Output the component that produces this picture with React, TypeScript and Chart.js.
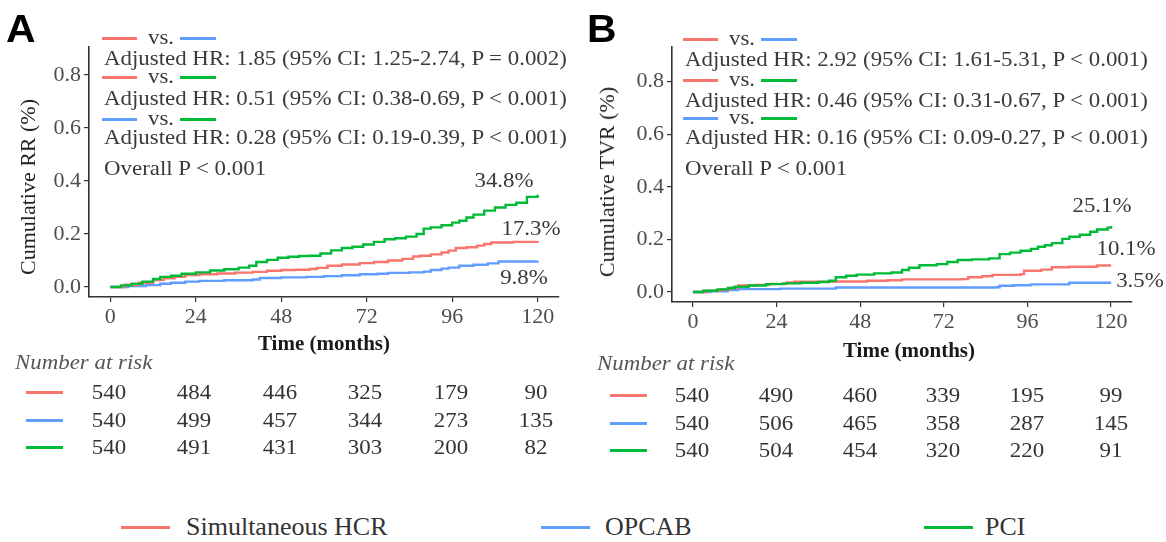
import React, { useEffect, useRef } from "react";
import { Chart, registerables } from "chart.js";
Chart.register(...registerables);

const RED = "#F8766D";
const BLUE = "#619CFF";
const GREEN = "#00BA38";
const AXIS = "#333333";
const TICK = "#4d4d4d";
const SERIF = "'Liberation Serif', 'Times New Roman', serif";

// ---- Panel A: cumulative RR ----
const rrTimePCI = [0, 3, 6, 9, 12, 14, 17, 20, 24, 28, 32, 36, 39, 41, 44, 47, 50, 53, 56, 59, 62, 65, 68, 71, 74, 77, 80, 83, 86, 88, 90, 93, 96, 98, 100, 102, 105, 108, 111, 114, 117, 120];
const rrPCI = [0, 0.006, 0.012, 0.02, 0.03, 0.038, 0.042, 0.05, 0.055, 0.062, 0.067, 0.073, 0.08, 0.094, 0.102, 0.11, 0.114, 0.117, 0.118, 0.126, 0.138, 0.147, 0.152, 0.16, 0.17, 0.18, 0.184, 0.19, 0.2, 0.22, 0.225, 0.233, 0.243, 0.25, 0.262, 0.273, 0.288, 0.3, 0.31, 0.318, 0.34, 0.348];
const rrTimeHCR = [0, 4, 8, 12, 15, 18, 21, 25, 30, 35, 40, 44, 48, 52, 56, 58, 61, 65, 70, 74, 78, 82, 85, 87, 90, 93, 95, 97, 100, 103, 105, 107, 113, 120];
const rrHCR = [0, 0.008, 0.016, 0.026, 0.033, 0.038, 0.045, 0.048, 0.051, 0.054, 0.057, 0.061, 0.064, 0.065, 0.068, 0.072, 0.08, 0.085, 0.09, 0.094, 0.1, 0.106, 0.115, 0.118, 0.123, 0.13, 0.137, 0.147, 0.15, 0.156, 0.162, 0.168, 0.17, 0.173];
const rrTimeOPCAB = [0, 5, 10, 14, 17, 21, 25, 32, 40, 42, 48, 55, 60, 65, 70, 75, 78, 84, 88, 90, 93, 95, 98, 102, 106, 109, 120];
const rrOPCAB = [0, 0.003, 0.007, 0.012, 0.016, 0.02, 0.023, 0.025, 0.028, 0.034, 0.036, 0.038, 0.041, 0.044, 0.048, 0.05, 0.053, 0.055, 0.058, 0.064, 0.069, 0.073, 0.08, 0.084, 0.089, 0.096, 0.098];

// ---- Panel B: cumulative TVR ----
const tvrTimePCI = [0, 3, 7, 10, 12, 16, 21, 26, 31, 36, 39, 41, 44, 47, 52, 57, 60, 62, 65, 70, 73, 76, 80, 85, 88, 91, 94, 97, 99, 101, 103, 106, 108, 111, 114, 116, 119, 120];
const tvrPCI = [0, 0.005, 0.01, 0.015, 0.02, 0.025, 0.03, 0.033, 0.035, 0.038, 0.043, 0.056, 0.062, 0.066, 0.071, 0.074, 0.084, 0.092, 0.102, 0.106, 0.114, 0.122, 0.124, 0.128, 0.144, 0.15, 0.157, 0.164, 0.172, 0.178, 0.186, 0.202, 0.21, 0.218, 0.229, 0.238, 0.245, 0.251];
const tvrTimeHCR = [0, 4, 8, 11, 13, 18, 22, 27, 29, 40, 50, 56, 60, 77, 79, 83, 86, 94, 95, 100, 103, 108, 116, 120];
const tvrHCR = [0, 0.005, 0.01, 0.016, 0.025, 0.027, 0.031, 0.036, 0.039, 0.04, 0.043, 0.045, 0.048, 0.049, 0.056, 0.06, 0.065, 0.068, 0.081, 0.085, 0.094, 0.096, 0.101, 0.101];
const tvrTimeOPCAB = [0, 5, 10, 13, 25, 41, 87, 88, 92, 97, 108, 120];
const tvrOPCAB = [0, 0.003, 0.007, 0.011, 0.013, 0.017, 0.018, 0.024, 0.026, 0.029, 0.035, 0.035];

// ---- axes ----
const xTicks = [0, 24, 48, 72, 96, 120];
const yTicks = [0, 0.2, 0.4, 0.6, 0.8];

// ---- numbers at risk ----
const rrRiskHCR = [540, 484, 446, 325, 179, 90];
const rrRiskOPCAB = [540, 499, 457, 344, 273, 135];
const rrRiskPCI = [540, 491, 431, 303, 200, 82];
const tvrRiskHCR = [540, 490, 460, 339, 195, 99];
const tvrRiskOPCAB = [540, 506, 465, 358, 287, 145];
const tvrRiskPCI = [540, 504, 454, 320, 220, 91];

// ---- annotations ----
const rrHR = [
  "Adjusted HR: 1.85 (95% CI: 1.25-2.74, P = 0.002)",
  "Adjusted HR: 0.51 (95% CI: 0.38-0.69, P < 0.001)",
  "Adjusted HR: 0.28 (95% CI: 0.19-0.39, P < 0.001)",
];
const tvrHR = [
  "Adjusted HR: 2.92 (95% CI: 1.61-5.31, P < 0.001)",
  "Adjusted HR: 0.46 (95% CI: 0.31-0.67, P < 0.001)",
  "Adjusted HR: 0.16 (95% CI: 0.09-0.27, P < 0.001)",
];
const rrEnd = ["34.8%", "17.3%", "9.8%"];
const tvrEnd = ["25.1%", "10.1%", "3.5%"];
const groupNames = ["Simultaneous HCR", "OPCAB", "PCI"];

type Series = { label: string; t: number[]; v: number[]; color: string };

function KMChart(props: {
  left: number; top: number; width: number; height: number;
  areaLeft: number; areaRight: number; areaTop: number; areaBottom: number;
  yMin: number; yMax: number; series: Series[];
}) {
  const ref = useRef<HTMLCanvasElement | null>(null);
  useEffect(() => {
    const p = props;
    const tickFont = { family: SERIF, size: 22 };
    const chart = new Chart(ref.current as HTMLCanvasElement, {
      type: "line",
      data: {
        datasets: p.series.map((s) => ({
          label: s.label,
          data: s.t.map((t, i) => ({ x: t, y: s.v[i] })),
          borderColor: s.color,
          backgroundColor: s.color,
          borderWidth: 2.4,
          pointRadius: 0,
          stepped: true,
          fill: false,
        })),
      },
      options: {
        animation: false,
        responsive: false,
        maintainAspectRatio: false,
        layout: { padding: { left: 0, top: p.areaTop, right: p.width - p.areaRight, bottom: 0 } },
        plugins: { legend: { display: false }, tooltip: { enabled: false } },
        scales: {
          x: {
            type: "linear",
            min: -6,
            max: 126,
            afterBuildTicks: (s: any) => { s.ticks = xTicks.map((v) => ({ value: v })); },
            afterFit: (s: any) => { s.height = p.height - p.areaBottom; },
            grid: { drawOnChartArea: false, drawTicks: true, tickLength: 5, color: AXIS, tickColor: AXIS, lineWidth: 1.2 },
            border: { display: true, color: AXIS, width: 1.6 },
            ticks: { font: tickFont, color: TICK, padding: 2, maxRotation: 0, autoSkip: false, callback: (v: any) => String(v) },
          },
          y: {
            type: "linear",
            min: p.yMin,
            max: p.yMax,
            afterBuildTicks: (s: any) => { s.ticks = yTicks.map((v) => ({ value: v })); },
            afterFit: (s: any) => { s.width = p.areaLeft; },
            grid: { drawOnChartArea: false, drawTicks: true, tickLength: 5, color: AXIS, tickColor: AXIS, lineWidth: 1.2 },
            border: { display: true, color: AXIS, width: 1.6 },
            ticks: { font: tickFont, color: TICK, padding: 3, autoSkip: false, callback: (v: any) => Number(v).toFixed(1) },
          },
        },
      } as any,
    });
    return () => chart.destroy();
  }, []);
  return (
    <canvas
      ref={ref}
      width={props.width}
      height={props.height}
      style={{ position: "absolute", left: props.left, top: props.top, width: props.width, height: props.height }}
    />
  );
}

const SX = 1.09;

function TL(props: { x: number; y: number; size: number; children: any; color?: string; weight?: any; italic?: boolean; sx?: number; family?: string }) {
  return (
    <div
      style={{
        position: "absolute", left: props.x, top: props.y, whiteSpace: "nowrap",
        fontFamily: props.family || SERIF, fontSize: props.size, lineHeight: 1,
        color: props.color || "#3a3a3a", fontWeight: props.weight || "normal",
        fontStyle: props.italic ? "italic" : "normal",
        transformOrigin: "0 50%", transform: `translateY(-50%) scaleX(${props.sx ?? SX})`,
      }}
    >
      {props.children}
    </div>
  );
}

function TC(props: { x: number; y: number; size: number; children: any; color?: string; weight?: any; rotate?: boolean; sx?: number }) {
  return (
    <div
      style={{
        position: "absolute", left: props.x, top: props.y, whiteSpace: "nowrap",
        fontFamily: SERIF, fontSize: props.size, lineHeight: 1,
        color: props.color || "#3a3a3a", fontWeight: props.weight || "normal",
        transform: props.rotate
          ? `translate(-50%,-50%) rotate(-90deg)`
          : `translate(-50%,-50%) scaleX(${props.sx ?? SX})`,
      }}
    >
      {props.children}
    </div>
  );
}

function Seg(props: { x1: number; x2: number; y: number; color: string; h?: number }) {
  const h = props.h ?? 3;
  return (
    <div style={{ position: "absolute", left: props.x1, top: props.y - h / 2, width: props.x2 - props.x1, height: h, background: props.color }} />
  );
}

function VsRow(props: { ox: number; y: number; c1: string; c2: string }) {
  const { ox, y } = props;
  return (
    <>
      <Seg x1={ox + 102} x2={ox + 137} y={y + 1} color={props.c1} />
      <TL x={ox + 148} y={y} size={21}>vs.</TL>
      <Seg x1={ox + 180} x2={ox + 216} y={y + 1} color={props.c2} />
    </>
  );
}

function Panel(props: {
  ox: number; letter: string; hr: string[]; ends: string[]; endPos: number[][];
  rows: number[]; ytitle: string; ytitlePos: number[]; xtitlePos: number[];
  nar: number[]; riskRows: number[][]; riskY: number[]; riskX0: number; riskDx: number; segX: number[];
}) {
  const { ox } = props;
  const r = props.rows;
  const colors = [RED, BLUE, GREEN];
  return (
    <>
      <TL x={ox + 6} y={28} size={39} weight="bold" color="#000" family="'Liberation Sans', Arial, sans-serif" sx={1.05}>{props.letter}</TL>
      <VsRow ox={ox} y={r[0]} c1={RED} c2={BLUE} />
      <TL x={ox + 104} y={r[1]} size={21}>{props.hr[0]}</TL>
      <VsRow ox={ox} y={r[2]} c1={RED} c2={GREEN} />
      <TL x={ox + 104} y={r[3]} size={21}>{props.hr[1]}</TL>
      <VsRow ox={ox} y={r[4]} c1={BLUE} c2={GREEN} />
      <TL x={ox + 104} y={r[5]} size={21}>{props.hr[2]}</TL>
      <TL x={ox + 104} y={r[6]} size={21}>Overall P &lt; 0.001</TL>
      {props.ends.map((e, i) => (
        <TC key={i} x={props.endPos[i][0]} y={props.endPos[i][1]} size={21}>{e}</TC>
      ))}
      <TC x={props.ytitlePos[0]} y={props.ytitlePos[1]} size={22} rotate color="#222">{props.ytitle}</TC>
      <TC x={props.xtitlePos[0]} y={props.xtitlePos[1]} size={20} weight="bold" color="#1a1a1a" sx={1.05}>Time (months)</TC>
      <TL x={props.nar[0]} y={props.nar[1]} size={21} italic color="#555">Number at risk</TL>
      {props.riskRows.map((row, ri) => (
        <React.Fragment key={ri}>
          <Seg x1={props.segX[0]} x2={props.segX[1]} y={props.riskY[ri]} color={colors[ri]} />
          {row.map((n, i) => (
            <TC key={i} x={props.riskX0 + i * props.riskDx} y={props.riskY[ri]} size={21} color="#333">{n}</TC>
          ))}
        </React.Fragment>
      ))}
    </>
  );
}

export default function App() {
  const seriesA: Series[] = [
    { label: "PCI", t: rrTimePCI, v: rrPCI, color: GREEN },
    { label: "Simultaneous HCR", t: rrTimeHCR, v: rrHCR, color: RED },
    { label: "OPCAB", t: rrTimeOPCAB, v: rrOPCAB, color: BLUE },
  ];
  const seriesB: Series[] = [
    { label: "PCI", t: tvrTimePCI, v: tvrPCI, color: GREEN },
    { label: "Simultaneous HCR", t: tvrTimeHCR, v: tvrHCR, color: RED },
    { label: "OPCAB", t: tvrTimeOPCAB, v: tvrOPCAB, color: BLUE },
  ];
  return (
    <div style={{ position: "fixed", left: 0, top: 0, width: 1166, height: 542, background: "#fff", overflow: "hidden" }}>
      <KMChart left={0} top={0} width={583} height={360} areaLeft={89} areaRight={559} areaTop={47} areaBottom={297} yMin={-0.038} yMax={0.906} series={seriesA} />
      <KMChart left={583} top={0} width={583} height={365} areaLeft={89} areaRight={549} areaTop={47} areaBottom={302} yMin={-0.038} yMax={0.932} series={seriesB} />
      <Panel
        ox={0} letter="A" hr={rrHR} ends={rrEnd} endPos={[[504, 180], [531, 228], [524, 277]]}
        rows={[37, 58, 76, 98, 118, 137, 168]} ytitle="Cumulative RR (%)" ytitlePos={[28, 187]} xtitlePos={[324, 343]}
        nar={[15, 362]} riskRows={[rrRiskHCR, rrRiskOPCAB, rrRiskPCI]} riskY={[392, 420, 447]} riskX0={109} riskDx={85.4} segX={[26, 63]}
      />
      <Panel
        ox={581} letter="B" hr={tvrHR} ends={tvrEnd} endPos={[[1102, 205], [1126, 248], [1140, 280]]}
        rows={[38, 59, 79, 100, 117, 137, 168]} ytitle="Cumulative TVR (%)" ytitlePos={[607, 182]} xtitlePos={[909, 350]}
        nar={[597, 363]} riskRows={[tvrRiskHCR, tvrRiskOPCAB, tvrRiskPCI]} riskY={[395, 423, 450]} riskX0={692} riskDx={83.8} segX={[610, 647]}
      />
      {/* legend */}
      <Seg x1={121} x2={170} y={527} color={RED} />
      <TL x={186} y={527} size={26} sx={1.0} color="#333">{groupNames[0]}</TL>
      <Seg x1={541} x2={590} y={527} color={BLUE} />
      <TL x={605} y={527} size={26} sx={1.0} color="#333">{groupNames[1]}</TL>
      <Seg x1={924} x2={973} y={527} color={GREEN} />
      <TL x={985} y={527} size={26} sx={1.0} color="#333">{groupNames[2]}</TL>
    </div>
  );
}
